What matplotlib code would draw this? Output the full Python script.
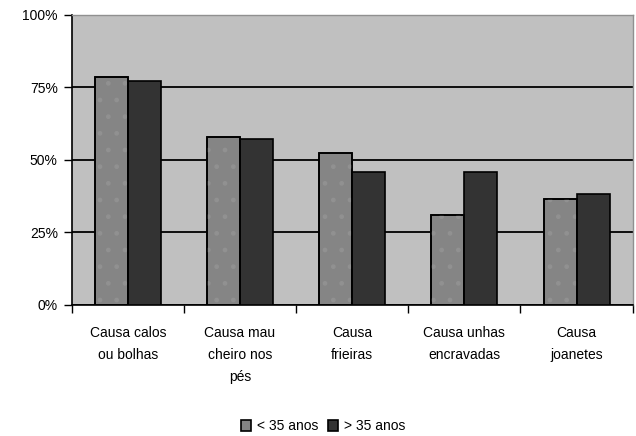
import numpy as np
import matplotlib.pyplot as plt
from matplotlib.ticker import FuncFormatter

# causes and share of respondents per age group
causas = ["Causa calos\nou bolhas", "Causa mau\ncheiro nos\npés", "Causa\nfrieiras",
          "Causa unhas\nencravadas", "Causa\njoanetes"]
menos_35 = [78.6, 58.0, 52.3, 31.0, 36.4]
mais_35 = [77.3, 57.2, 45.9, 45.9, 38.3]
series_labels = ["< 35 anos", "> 35 anos"]

plt.rcParams['font.family'] = ['Liberation Sans', 'DejaVu Sans']

fig = plt.figure(figsize=(6.36, 4.36), dpi=100)
ax = fig.add_axes([0.1127, 0.3005, 0.8821, 0.6651])
ax.set_facecolor('#c0c0c0')

x = np.arange(len(causas))
w = 0.294
b1 = ax.bar(x - w / 2, menos_35, w, color='#858585', edgecolor='black', linewidth=1.2,
            label=series_labels[0], zorder=3)
# faint dotted texture on the light bars
ax.bar(x - w / 2, menos_35, w, fill=False, hatch='.', edgecolor='#919191', linewidth=0, zorder=3)
ax.bar(x - w / 2, menos_35, w, fill=False, edgecolor='black', linewidth=1.2, zorder=4)
b2 = ax.bar(x + w / 2, mais_35, w, color='#333333', edgecolor='black', linewidth=1.2,
            label=series_labels[1], zorder=3)

ax.set_xlim(-0.5, len(causas) - 0.5)
ax.set_ylim(0, 100)
ax.set_yticks([0, 25, 50, 75, 100])
ax.yaxis.set_major_formatter(FuncFormatter(lambda v, p: "%d%%" % v))
ax.yaxis.grid(True, color='black', linewidth=1.3, zorder=1)
ax.set_axisbelow(True)

ax.set_xticks(np.arange(len(causas) + 1) - 0.5)
ax.set_xticklabels([])
ax.set_xticks(x, minor=True)
ax.set_xticklabels(causas, minor=True, fontsize=10, linespacing=1.75)
ax.tick_params(axis='x', which='minor', length=0, pad=15)
ax.tick_params(axis='x', which='major', length=6, width=1, direction='out')
ax.tick_params(axis='y', length=6, width=1, labelsize=10, pad=4)

for s in ['top', 'right']:
    ax.spines[s].set_color('#909090')
    ax.spines[s].set_linewidth(1)
for s in ['left', 'bottom']:
    ax.spines[s].set_color('black')
    ax.spines[s].set_linewidth(1.2)

fig.legend(handles=[b1, b2], labels=series_labels, loc='center', bbox_to_anchor=(0.508, 0.022),
           ncol=2, frameon=False, fontsize=10, handlelength=0.75, handleheight=0.75,
           handletextpad=0.4, columnspacing=0.7)

fig.savefig('out.png', dpi=100)
